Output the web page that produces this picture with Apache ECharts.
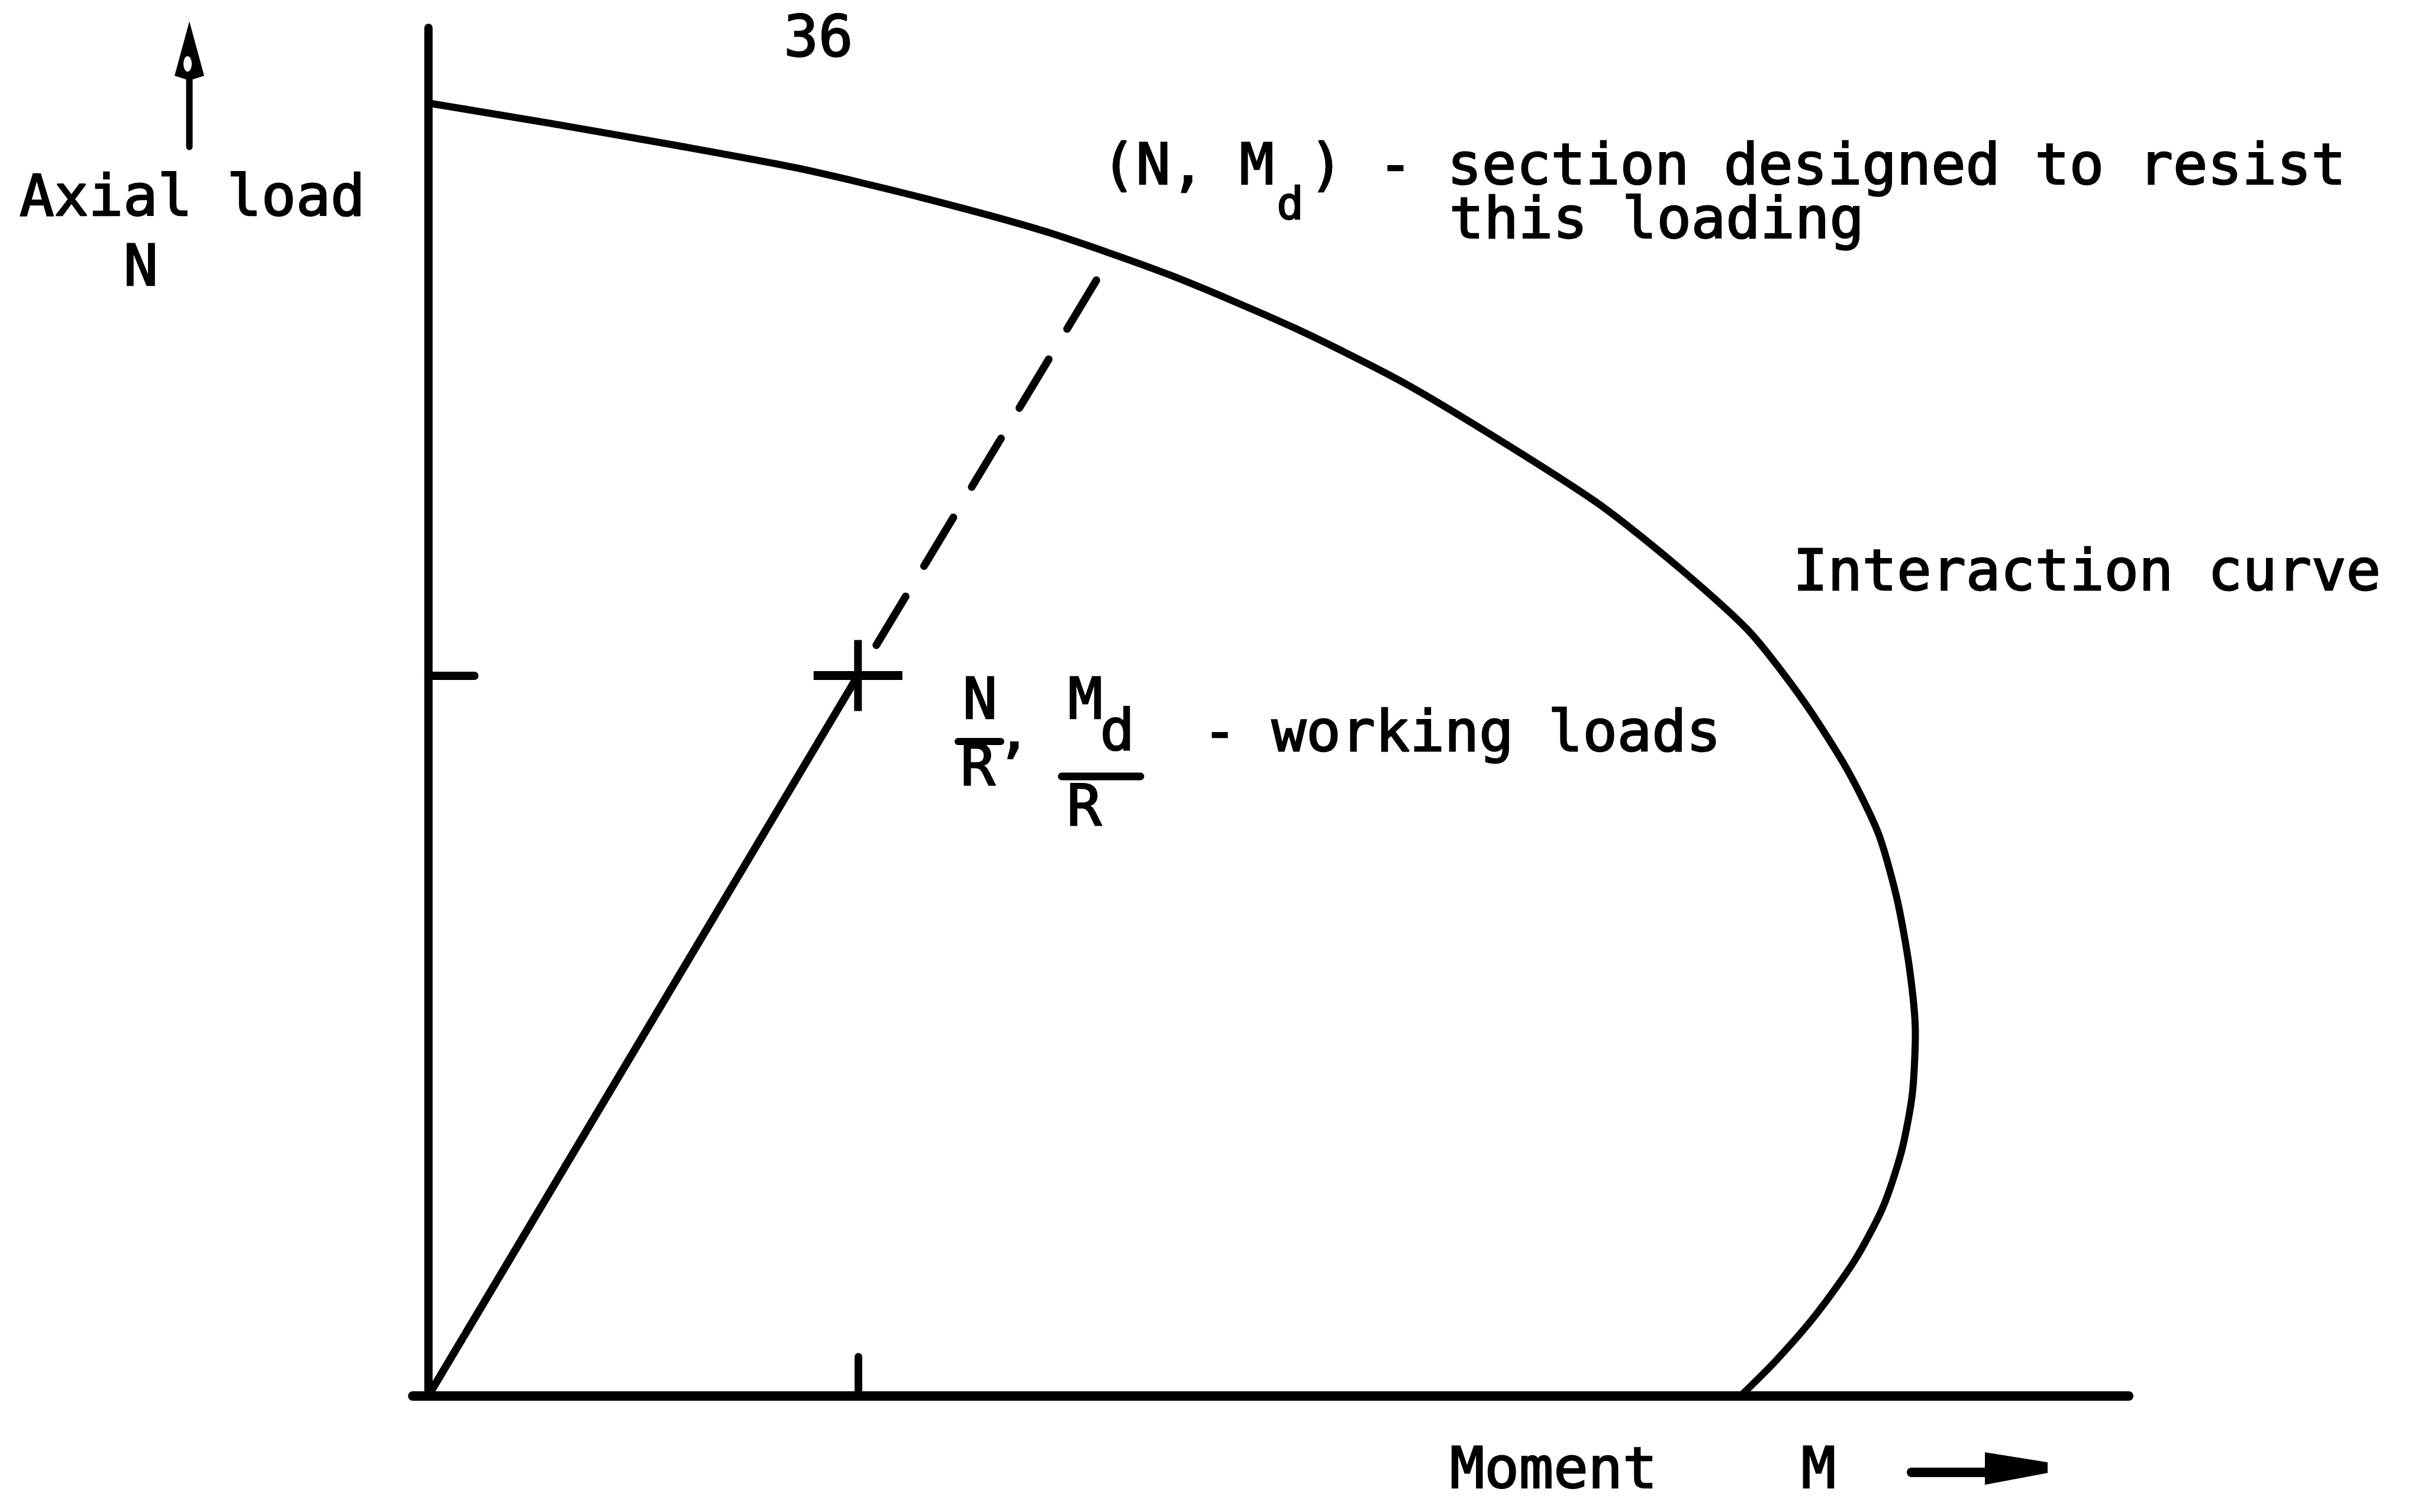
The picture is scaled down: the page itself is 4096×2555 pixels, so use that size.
<!DOCTYPE html>
<html>
<head>
<meta charset="utf-8">
<title>Interaction curve</title>
<script src="https://cdn.jsdelivr.net/npm/echarts@6/dist/echarts.min.js"></script>
<style>
  html, body { margin: 0; padding: 0; background: #fff; }
  #chart { width: 4096px; height: 2555px; }
</style>
</head>
<body>
<div id="chart"></div>
<script>
// values, in picture units (origin at the axes corner)
const curveM = [2, 80, 160, 240, 320, 400, 480, 560, 630, 700, 760, 810, 855, 890, 918, 938, 950, 958, 962, 960, 953, 941, 923, 898, 872, 849]
const curveN = [836, 823, 809, 794, 775, 753, 725, 691, 656, 614, 575, 535, 494, 449, 405, 364, 322, 278, 235, 195, 158, 122, 88, 53, 23, 0]
const origin = [0, 0]
const workingPoint = [278, 466]   // (Md/R, N/R)
const dashEnd = [433, 723]        // dashed line stops just short of (Md, N)

const font = "DejaVu Sans Mono"
const ink = "#000"

const chart = echarts.init(document.getElementById("chart"))

const txt = (text, x, y, size, align) => ({
  type: "text",
  style: {
    text: text, x: x, y: y,
    font: size + "px '" + font + "'",
    fill: ink,
    stroke: ink,
    lineWidth: 2.5,
    align: align || "left", textAlign: align || "left",
    verticalAlign: "middle", textVerticalAlign: "middle",
  },
})

const bar = (x1, x2, y, w) => ({
  type: "line",
  shape: { x1: x1, y1: y, x2: x2, y2: y },
  style: { stroke: ink, lineWidth: w, lineCap: "round" },
})

const option = {
  backgroundColor: "#fff",
  animation: false,
  grid: { left: 697.5, right: 499, top: 47, bottom: 196.2 },
  xAxis: {
    type: "value",
    min: -10,
    max: 1100,
    splitLine: { show: false },
    axisLabel: { show: false },
    axisLine: { lineStyle: { color: ink, width: 16, cap: "round" } },
    axisTick: {
      show: true,
      inside: true,
      length: 66,
      customValues: [workingPoint[0]],
      lineStyle: { color: ink, width: 13, cap: "round" },
    },
  },
  yAxis: {
    type: "value",
    min: 0,
    max: 885,
    splitLine: { show: false },
    axisLabel: { show: false },
    axisLine: { onZero: true, lineStyle: { color: ink, width: 14, cap: "round" } },
    axisTick: {
      show: true,
      inside: true,
      length: 78,
      customValues: [workingPoint[1]],
      lineStyle: { color: ink, width: 14, cap: "round" },
    },
  },
  series: [
    {
      name: "Interaction curve",
      type: "line",
      data: curveM.map((m, i) => [m, curveN[i]]),
      smooth: 0.25,
      showSymbol: false,
      lineStyle: { color: ink, width: 12 },
    },
    {
      name: "Working load path",
      type: "line",
      data: [origin, workingPoint],
      showSymbol: false,
      lineStyle: { color: ink, width: 13 },
    },
    {
      name: "Design extension",
      type: "line",
      data: [workingPoint, dashEnd],
      showSymbol: false,
      lineStyle: { color: ink, width: 13, type: [96, 60], dashOffset: 96, cap: "round" },
    },
    {
      name: "Working loads",
      type: "scatter",
      data: [workingPoint],
      symbol: "path://M0,52.5 L150,52.5 L150,67.5 L0,67.5 Z M68.5,0 L81.5,0 L81.5,120 L68.5,120 Z",
      symbolSize: [150, 120],
      itemStyle: { color: ink, opacity: 1 },
    },
  ],
  graphic: {
    elements: [
      txt("36", 1383, 70, 97, "center"),
      // y axis title with arrow
      txt("Axial load", 33, 339, 97),
      txt("N", 238, 457, 97, "center"),
      {
        type: "line",
        shape: { x1: 320, y1: 110, x2: 320, y2: 248 },
        style: { stroke: ink, lineWidth: 11, lineCap: "round" },
      },
      {
        type: "polygon",
        shape: { points: [[320, 36], [345, 128], [320, 136], [295, 128]] },
        style: { fill: ink },
      },
      {
        type: "ellipse",
        shape: { cx: 317, cy: 108, rx: 7, ry: 13 },
        style: { fill: "#fff" },
      },
      // design point annotation
      txt("(N, M", 1861, 286, 97),
      txt("d", 2180, 351, 75, "center"),
      txt(") - section designed to resist", 2212, 286, 97),
      txt("this loading", 2449, 377, 97),
      txt("Interaction curve", 3030, 972, 97),
      // working loads annotation
      txt("N", 1656, 1189, 97, "center"),
      bar(1619, 1691, 1253, 12),
      txt("R\u2019", 1623, 1302, 97),
      txt("M", 1834, 1189, 97, "center"),
      txt("d", 1888, 1242, 97, "center"),
      bar(1794, 1927, 1312, 13),
      txt("R", 1832, 1370, 97, "center"),
      txt("- working loads", 2032, 1244, 97),
      // x axis title with arrow
      txt("Moment", 2450, 2489, 97),
      txt("M", 3073, 2489, 97, "center"),
      bar(3230, 3360, 2488, 16),
      {
        type: "polygon",
        shape: { points: [[3354, 2454], [3460, 2471], [3460, 2489], [3354, 2509]] },
        style: { fill: ink },
      },
    ],
  },
}

chart.setOption(option)

window.addEventListener("resize", () => chart.resize())
</script>
</body>
</html>
